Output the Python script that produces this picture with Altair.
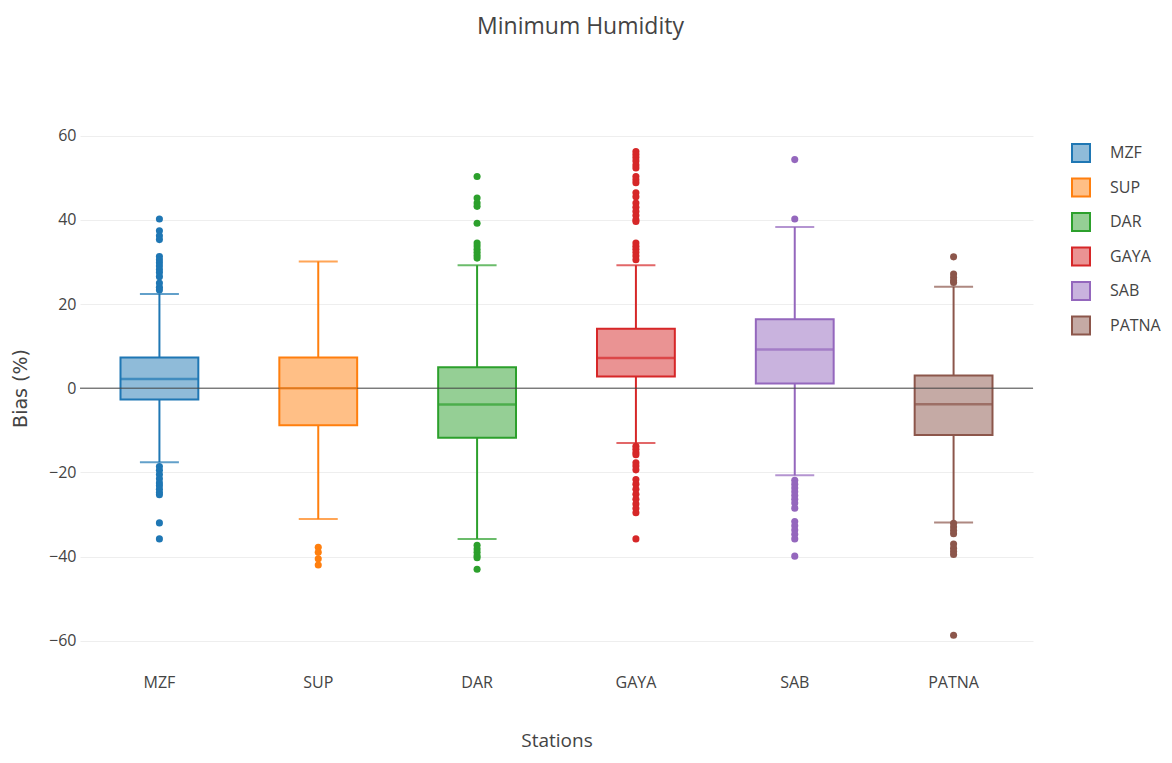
import altair as alt
import pandas as pd

stations = ["MZF", "SUP", "DAR", "GAYA", "SAB", "PATNA"]
q1 = [-2.7, -8.8, -11.8, 2.8, 1.1, -11.1]
median = [2.2, 0.0, -3.9, 7.2, 9.2, -3.8]
q3 = [7.3, 7.3, 5.0, 14.1, 16.4, 3.0]
whisker_lo = [-17.6, -31.1, -35.8, -13.0, -20.7, -31.9]
whisker_hi = [22.4, 30.1, 29.2, 29.2, 38.3, 24.1]

out_mzf = [40.2, 37.4, 36.2, 35.3, 31.3, 30.5, 29.8, 29.0, 28.2, 27.5, 26.5, 25.0, 24.0, 23.3,
           -18.6, -19.5, -20.5, -21.5, -22.5, -23.2, -24.0, -24.8, -25.3, -32.0, -35.8]
out_sup = [-37.8, -39.0, -40.5, -42.0]
out_dar = [50.3, 45.2, 44.0, 43.2, 39.2, 34.5, 33.8, 33.0, 32.3, 31.6, 30.9,
           -37.3, -38.2, -39.0, -39.8, -40.3, -43.0]
out_gaya = [56.2, 55.5, 54.8, 54.0, 53.0, 52.3, 50.3, 49.5, 48.8, 46.4, 45.5, 44.0, 43.0, 42.0,
            41.0, 40.0, 39.6, 34.5, 33.7, 33.0, 32.2, 31.4, 30.5,
            -13.8, -14.5, -15.3, -15.8, -17.7, -18.5, -19.4, -21.7, -22.8, -24.0, -25.2,
            -26.4, -27.5, -28.6, -29.6, -35.8]
out_sab = [54.3, 40.2, -21.9, -22.8, -23.7, -24.6, -25.5, -26.4, -27.3, -28.5,
           -31.7, -32.7, -33.7, -34.7, -35.8, -39.9]
out_patna = [31.2, 27.1, 26.3, 25.5, 25.1, -32.1, -33.0, -33.8, -34.6,
             -37.0, -38.0, -38.8, -39.5, -58.7]

y_ticks = [-60, -40, -20, 0, 20, 40, 60]

line_colors = ["#1f77b4", "#ff7f0e", "#2ca02c", "#d62728", "#9467bd", "#8c564b"]
fill_colors = ["#8fbbd9", "#ffbf86", "#95cf95", "#ea9393", "#c9b3de", "#c5aaa5"]

box_df = pd.DataFrame({
    "station": stations, "q1": q1, "median": median, "q3": q3,
    "lo": whisker_lo, "hi": whisker_hi,
})
out_lists = [out_mzf, out_sup, out_dar, out_gaya, out_sab, out_patna]
out_df = pd.DataFrame(
    [{"station": s, "value": v} for s, vals in zip(stations, out_lists) for v in vals]
)

FONT = "Open Sans"
TXT = "#444444"

x_enc = alt.X(
    "station:N", sort=stations,
    scale=alt.Scale(domain=stations, paddingInner=0, paddingOuter=0),
    axis=alt.Axis(title="Stations", labelAngle=0, ticks=False, domain=False, grid=False,
                  labelFontSize=16, labelColor=TXT, labelFont=FONT, labelPadding=8,
                  titleFontSize=19, titleColor=TXT, titleFont=FONT, titleFontWeight="normal",
                  titleY=74, titleBaseline="middle"),
)
y_scale = alt.Scale(domain=[-66, 63], nice=False, zero=False)
y_axis = alt.Axis(title="Bias (%)", values=y_ticks, grid=True, gridColor="#eeeeee",
                  gridWidth=1, ticks=False, domain=False, labelFontSize=16,
                  labelColor=TXT, labelFont=FONT, labelPadding=4,
                  titleFontSize=19, titleColor=TXT, titleFont="DejaVu Sans",
                  titleFontWeight="normal", titleX=-60, titleY=265,
                  titleBaseline="middle", titleAngle=270)

# colour scale for whiskers / points (listed in reverse so it is not merged with the legend scales)
color_dark = alt.Color("station:N",
                       scale=alt.Scale(domain=stations[::-1], range=line_colors[::-1]),
                       legend=None)

leg = alt.Legend(title=None, orient="none", legendX=991, legendY=20, symbolType="square",
                 symbolSize=324, symbolStrokeWidth=2, labelFontSize=16, labelColor=TXT,
                 labelFont=FONT, labelOffset=19, rowPadding=8.5, padding=0)

base = alt.Chart(box_df)

whisk_up = base.mark_rule(strokeWidth=2).encode(
    x=x_enc, y=alt.Y("q3:Q", scale=y_scale, axis=y_axis), y2="hi:Q", color=color_dark)
whisk_dn = base.mark_rule(strokeWidth=2).encode(
    x=x_enc, y=alt.Y("lo:Q", scale=y_scale), y2="q1:Q", color=color_dark)
cap_hi = base.mark_tick(size=39, thickness=2, orient="horizontal").encode(
    x=x_enc, y=alt.Y("hi:Q", scale=y_scale), color=color_dark)
cap_lo = base.mark_tick(size=39, thickness=2, orient="horizontal").encode(
    x=x_enc, y=alt.Y("lo:Q", scale=y_scale), color=color_dark)
boxes = base.mark_bar(width=alt.RelativeBandSize(0.49), strokeWidth=2, fillOpacity=1).encode(
    x=x_enc, y=alt.Y("q1:Q", scale=y_scale), y2="q3:Q",
    fill=alt.Fill("station:N", scale=alt.Scale(domain=stations, range=fill_colors), legend=leg),
    stroke=alt.Stroke("station:N", scale=alt.Scale(domain=stations, range=line_colors), legend=leg),
)
zero = alt.Chart(pd.DataFrame({"z": [0]})).mark_rule(color="#444444", strokeWidth=1).encode(
    y=alt.Y("z:Q", scale=y_scale))
med = base.mark_tick(size=78, thickness=2.5, orient="horizontal").encode(
    x=x_enc, y=alt.Y("median:Q", scale=y_scale), color=color_dark)
outs = alt.Chart(out_df).mark_circle(size=50, opacity=1).encode(
    x=x_enc, y=alt.Y("value:Q", scale=y_scale), color=color_dark)

chart = alt.layer(whisk_up, whisk_dn, cap_hi, cap_lo, boxes, zero, med, outs).properties(
    width=953, height=543,
    title=alt.TitleParams("Minimum Humidity", fontSize=23, font=FONT, color=TXT,
                          fontWeight="normal", anchor="middle", dx=24, offset=84),
    autosize=alt.AutoSizeParams(type="none"),
    padding={"left": 72, "top": 115, "right": 130, "bottom": 88},
).configure_view(stroke=None)

chart.save("out.html", embed_options={"renderer": "svg", "actions": False})
